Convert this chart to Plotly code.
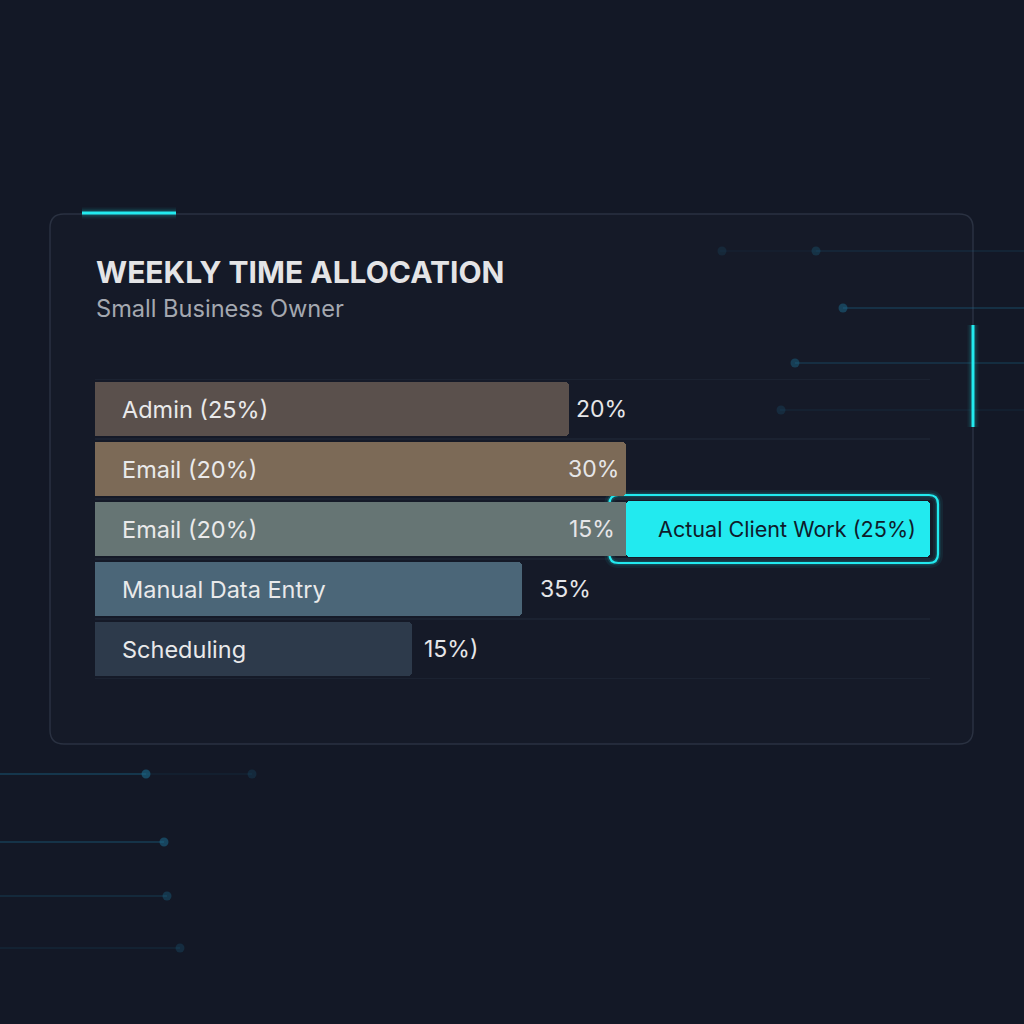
import plotly.graph_objects as go

# ---- data ----
row_labels = ["Admin (25%)", "Email (20%)", "Email (20%)", "Manual Data Entry", "Scheduling"]
bar_values = [25.0, 28.0, 28.0, 22.5, 16.7]
value_labels = ["20%", "30%", "15%", "35%", "15%)"]
bar_colors = ["#5a504c", "#7c6a57", "#667574", "#4b6678", "#2d3a4b"]
highlight_label = "Actual Client Work (25%)"
highlight_row = 2
highlight_value = 16.0
title_text = "WEEKLY TIME ALLOCATION"
subtitle_text = "Small Business Owner"

# ---- layout geometry ----
W, H = 1024, 1024
ML, MR, MT, MB = 95, 94, 379, 345
PW, PH = W - ML - MR, H - MT - MB
X_MAX = 44.0
CYAN = "#22eaef"
FONT = "Inter, Roboto, sans-serif"

def px(x):
    return (x - ML) / PW

def py(y):
    return (H - MB - y) / PH

def rrect(x0, y0, x1, y1, r):
    return (f"M {px(x0+r)},{py(y0)} L {px(x1-r)},{py(y0)} Q {px(x1)},{py(y0)} {px(x1)},{py(y0+r)} "
            f"L {px(x1)},{py(y1-r)} Q {px(x1)},{py(y1)} {px(x1-r)},{py(y1)} "
            f"L {px(x0+r)},{py(y1)} Q {px(x0)},{py(y1)} {px(x0)},{py(y1-r)} "
            f"L {px(x0)},{py(y0+r)} Q {px(x0)},{py(y0)} {px(x0+r)},{py(y0)} Z")

ypos = list(range(len(row_labels)))[::-1]  # top row = 4

fig = go.Figure()
shapes = []

# card
shapes.append(dict(type="path", xref="paper", yref="paper", path=rrect(50, 214, 973, 744, 14),
                   line=dict(color="#2a3141", width=1.5), fillcolor="rgba(255,255,255,0.012)", layer="below"))

# row separators
for b in [-0.5, 0.5, 1.5, 2.5, 3.5, 4.5]:
    shapes.append(dict(type="line", xref="paper", yref="y", x0=0, x1=1, y0=b, y1=b,
                       line=dict(color="#232b3a", width=1), layer="below"))

def glow_line(x0, y0, x1, y1, w):
    for lw, op in [(w + 8, 0.06), (w + 4, 0.12)]:
        shapes.append(dict(type="line", xref="paper", yref="paper", x0=px(x0), y0=py(y0), x1=px(x1), y1=py(y1),
                           line=dict(color=CYAN, width=lw), opacity=op, layer="below"))
    shapes.append(dict(type="line", xref="paper", yref="paper", x0=px(x0), y0=py(y0), x1=px(x1), y1=py(y1),
                       line=dict(color=CYAN, width=w), layer="above"))

glow_line(82, 213, 176, 213, 3)
glow_line(973, 325, 973, 427, 3)

# circuit decorations
def circuit(x0, x1, y, dotx, op):
    shapes.append(dict(type="line", xref="paper", yref="paper", x0=px(x0), y0=py(y), x1=px(x1), y1=py(y),
                       line=dict(color="#1b6a8c", width=1.5), opacity=op, layer="below"))
    r = 4.5
    shapes.append(dict(type="circle", xref="paper", yref="paper", x0=px(dotx - r), x1=px(dotx + r),
                       y0=py(y + r), y1=py(y - r), fillcolor="#1b6a8c", line=dict(width=0), opacity=op + 0.1,
                       layer="below"))

circuit(816, 1024, 251, 816, 0.2)
circuit(720, 816, 251, 722, 0.08)
circuit(843, 1024, 308, 843, 0.4)
circuit(795, 1024, 363, 795, 0.35)
circuit(780, 1024, 410, 781, 0.12)
circuit(0, 146, 774, 146, 0.5)
circuit(146, 252, 774, 252, 0.12)
circuit(0, 164, 842, 164, 0.45)
circuit(0, 167, 896, 167, 0.28)
circuit(0, 180, 948, 180, 0.16)

# bars
fig.add_trace(go.Bar(x=bar_values, y=ypos, orientation="h", width=0.9,
                     marker=dict(color=bar_colors, line=dict(width=0)), hoverinfo="skip", showlegend=False))

# highlight bar: glow border
hx0 = bar_values[highlight_row] - 17 / (PW / X_MAX)
hx1 = bar_values[highlight_row] + highlight_value + 8 / (PW / X_MAX)
hy = ypos[highlight_row]
gx0 = ML + hx0 * PW / X_MAX
gx1 = ML + hx1 * PW / X_MAX
gyc = MT + (4.5 - hy) * PH / 5
for lw, op in [(10, 0.06), (5, 0.15)]:
    shapes.append(dict(type="path", xref="paper", yref="paper", path=rrect(gx0, gyc - 34, gx1, gyc + 34, 9),
                       line=dict(color=CYAN, width=lw), opacity=op, layer="below"))
shapes.append(dict(type="path", xref="paper", yref="paper", path=rrect(gx0, gyc - 34, gx1, gyc + 34, 9),
                   line=dict(color=CYAN, width=2.2), layer="below"))

fig.add_trace(go.Bar(x=[highlight_value], y=[hy], base=[bar_values[highlight_row]], orientation="h", width=0.92,
                     marker=dict(color=CYAN, line=dict(width=0)), hoverinfo="skip", showlegend=False))
# redraw the row bar on top so it overlaps the highlight border
fig.add_trace(go.Bar(x=[bar_values[highlight_row]], y=[hy], orientation="h", width=0.9,
                     marker=dict(color=bar_colors[highlight_row], line=dict(width=0)),
                     hoverinfo="skip", showlegend=False))

annotations = []
value_anchor = ["left", "right", "right", "left", "left"]
value_shift = [5, -5, -9, 16, 10]
for i, lab in enumerate(row_labels):
    annotations.append(dict(x=0, y=ypos[i], xref="x", yref="y", text=lab, showarrow=False, xanchor="left",
                            xshift=25, font=dict(family=FONT, size=23.5, color="#e9e9ea")))
    annotations.append(dict(x=bar_values[i], y=ypos[i], xref="x", yref="y", text=value_labels[i], showarrow=False,
                            xanchor=value_anchor[i], xshift=value_shift[i],
                            font=dict(family=FONT, size=23, color="#e6e6e8")))

annotations.append(dict(x=bar_values[highlight_row] + highlight_value, y=hy, xref="x", yref="y",
                        text=highlight_label, showarrow=False, xanchor="right", xshift=-12,
                        font=dict(family=FONT, size=21.6, color="#0f1b2b")))

annotations.append(dict(x=px(94), y=py(272), xref="paper", yref="paper", text=f"<b>{title_text}</b>",
                        showarrow=False, xanchor="left", yanchor="middle",
                        font=dict(family=FONT, size=30, color="#e4e4e6")))
annotations.append(dict(x=px(94), y=py(308), xref="paper", yref="paper", text=subtitle_text,
                        showarrow=False, xanchor="left", yanchor="middle",
                        font=dict(family=FONT, size=23.6, color="#a4a8b0")))

fig.update_layout(
    width=W, height=H, margin=dict(l=ML, r=MR, t=MT, b=MB, pad=0),
    paper_bgcolor="#131826", plot_bgcolor="rgba(0,0,0,0)",
    barmode="overlay", barcornerradius=4, bargap=0,
    xaxis=dict(range=[0, X_MAX], showgrid=False, zeroline=False, showticklabels=False, fixedrange=True),
    yaxis=dict(range=[-0.5, 4.5], showticklabels=False, showgrid=False, zeroline=False, fixedrange=True),
    shapes=shapes, annotations=annotations, showlegend=False,
)

fig.write_html("out.html", config={"displayModeBar": False})
